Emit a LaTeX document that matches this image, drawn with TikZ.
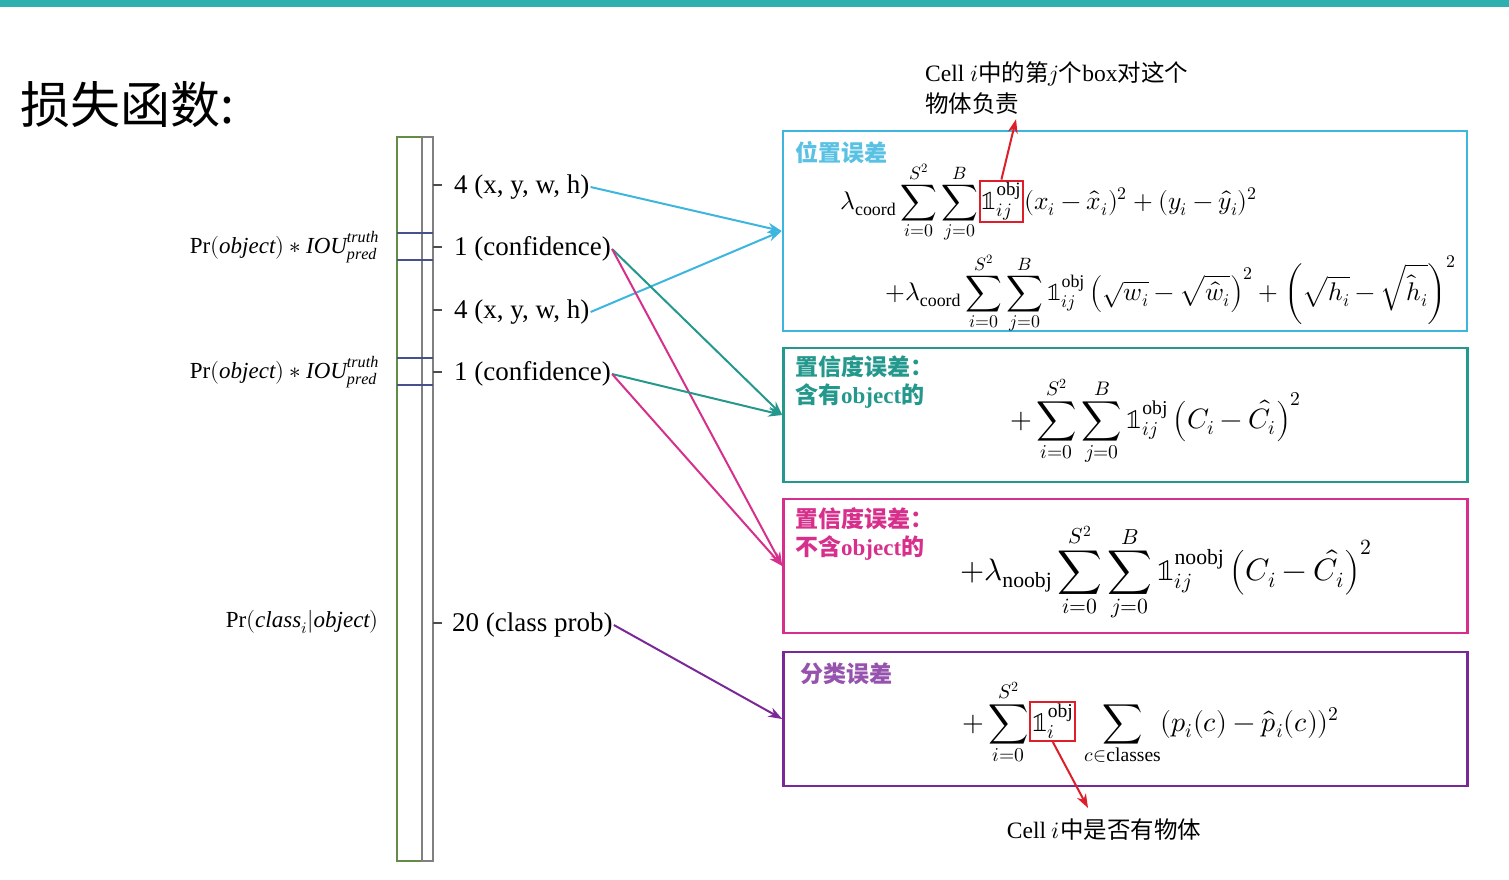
\documentclass[tikz,border=0pt]{standalone}
\usepackage{fontspec}
\usepackage{unicode-math}
\setmainfont{Liberation Serif}
\setmathfont{Latin Modern Math}
\newfontfamily\cjk{Noto Sans CJK SC}
\usetikzlibrary{positioning,calc,arrows.meta}
\definecolor{barteal}{RGB}{46,176,176}
\definecolor{bargreen}{RGB}{100,140,70}
\definecolor{divblue}{RGB}{70,80,140}
\definecolor{cyanc}{RGB}{60,182,222}
\definecolor{tealc}{RGB}{36,152,140}
\definecolor{magc}{RGB}{214,48,140}
\definecolor{purc}{RGB}{122,40,152}
\definecolor{redc}{RGB}{222,30,40}

\begin{document}
\begin{tikzpicture}[
  x=1pt, y=-1pt,
  font=\fontsize{27}{31}\selectfont,
  lbl/.style={anchor=west, inner sep=1pt},
  prlbl/.style={anchor=east, inner sep=1pt, font=\fontsize{23}{26}\selectfont},
  fml/.style={anchor=base west, inner sep=0pt, font=\fontsize{25.5}{30}\selectfont},
  ind/.style={draw=redc, line width=2pt, inner sep=2pt, anchor=base west},
  lossbox/.style={draw, line width=2.5pt, minimum width=684pt, minimum height=134pt},
  ttl/.style={anchor=north west, align=left, inner sep=0pt, font=\fontsize{23}{28}\selectfont\cjk\bfseries},
  note/.style={align=left, inner sep=1pt, font=\fontsize{23.5}{31}\selectfont},
  arrow/.style={-{Stealth[length=14pt,width=10pt]}, line width=2pt}
]
\useasboundingbox (0,0) rectangle (1509,879);
\fill[barteal] (0,0) rectangle (1509,7);

\node[anchor=west, inner sep=0pt, font=\fontsize{50}{60}\selectfont\cjk] (title) at (20,105) {损失函数:};

\draw[bargreen, line width=2pt] (397,137) rectangle (422,861);
\draw[gray, line width=1.5pt] (422,137) rectangle (433,861);
\foreach \y in {233,260,358,385}
  \draw[divblue, line width=1.5pt] (397,\y) -- (433,\y);
\foreach \y in {185,247,310,372,623}
  \draw[black!70, line width=1.5pt] (433,\y) -- (442,\y);

\node[lbl] (xywhA)   at (453,187) {4 (x, y, w, h)};
\node[lbl] (confA)   at (453,249) {1 (confidence)};
\node[lbl] (xywhB)   at (453,312) {4 (x, y, w, h)};
\node[lbl] (confB)   at (453,374) {1 (confidence)};
\node[lbl] (clsprob) at (451,625) {20 (class prob)};

\node[prlbl] (prA) at (380,247) {$\mathrm{Pr}(\mathit{object})*\mathit{IOU}^{\mathit{truth}}_{\mathit{pred}}$};
\node[prlbl] (prB) at (380,372) {$\mathrm{Pr}(\mathit{object})*\mathit{IOU}^{\mathit{truth}}_{\mathit{pred}}$};
\node[prlbl] (prC) at (380,622) {$\mathrm{Pr}(\mathit{class}_i|\mathit{object})$};

\node[lossbox, draw=cyanc, minimum height=200pt] (locbox)   at (1125,231) {};
\node[lossbox, draw=tealc]                       (objbox)   at (1125.5,415) {};
\node[lossbox, draw=magc]                        (noobjbox) at (1125.5,566) {};
\node[lossbox, draw=purc]                        (clsbox)   at (1125.5,719) {};

\node[ttl, text=cyanc!85] (locttl) at (795,141) {位置误差};
\node[ttl, text=tealc] (objttl) at (795,355) {置信度误差：\\含有{\rmfamily object}的};
\node[ttl, text=magc] (noobjttl) at (795,507) {置信度误差：\\不含{\rmfamily object}的};
\node[ttl, text=purc!80] (clsttl) at (800,663) {分类误差};

\node[fml] (locA) at (840,209) {$\displaystyle\lambda_{\mathrm{coord}}\sum_{i=0}^{S^2}\sum_{j=0}^{B}$};
\node[ind] (indA) at (locA.base east) {$\mathbb{1}_{ij}^{\mathrm{obj}}$};
\node[fml] (locB) at (indA.base east) {$\displaystyle(x_i-\hat{x}_i)^2+(y_i-\hat{y}_i)^2$};
\node[fml] (locC) at (885,300) {$\displaystyle+\lambda_{\mathrm{coord}}\sum_{i=0}^{S^2}\sum_{j=0}^{B}\mathbb{1}_{ij}^{\mathrm{obj}}\left(\sqrt{w_i}-\sqrt{\hat{w}_i}\right)^2+\left(\sqrt{h_i}-\sqrt{\hat{h}_i}\right)^2$};

\node[fml, font=\fontsize{28}{32}\selectfont] (objf) at (1010,428) {$\displaystyle+\sum_{i=0}^{S^2}\sum_{j=0}^{B}\mathbb{1}_{ij}^{\mathrm{obj}}\left(C_i-\hat{C}_i\right)^2$};
\node[fml, font=\fontsize{31}{36}\selectfont] (noobjf) at (960,580) {$\displaystyle+\lambda_{\mathrm{noobj}}\sum_{i=0}^{S^2}\sum_{j=0}^{B}\mathbb{1}_{ij}^{\mathrm{noobj}}\left(C_i-\hat{C}_i\right)^2$};

\node[fml, font=\fontsize{28}{32}\selectfont] (clsA) at (962,731) {$\displaystyle+\sum_{i=0}^{S^2}$};
\node[ind, font=\fontsize{28}{32}\selectfont] (indB) at (clsA.base east) {$\mathbb{1}_{i}^{\mathrm{obj}}$};
\node[fml, font=\fontsize{28}{32}\selectfont] (clsB) at (indB.base east) {$\displaystyle\;\sum_{c\in\mathrm{classes}}(p_i(c)-\hat{p}_i(c))^2$};

\node[note, anchor=north west] (cellA) at (924,60) {Cell $i${\cjk 中的第}$j${\cjk 个}box{\cjk 对这个}\\{\cjk 物体负责}};
\node[note] (cellB) at (1104,830) {Cell $i${\cjk 中是否有物体}};

\draw[arrow, cyanc] (xywhA.east) -- (locbox.west);
\draw[arrow, cyanc] (xywhB.east) -- (locbox.west);
\draw[arrow, tealc] (confA.east) -- (objbox.west);
\draw[arrow, magc]  (confA.east) -- (noobjbox.west);
\draw[arrow, tealc] (confB.east) -- (objbox.west);
\draw[arrow, magc]  (confB.east) -- (noobjbox.west);
\draw[arrow, purc]  (clsprob.east) -- (clsbox.west);
\draw[arrow, redc] (indA.north) -- ($(cellA.south west)+(92,4)$);
\draw[arrow, redc] (indB.south) -- ($(cellB.north)+(-16,-10)$);
\end{tikzpicture}
\end{document}
